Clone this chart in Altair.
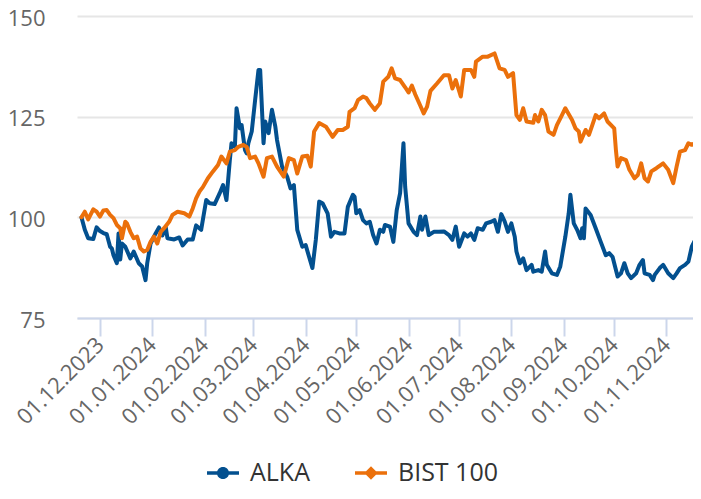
import altair as alt
import pandas as pd

# ---------------- data ----------------
alka_dates = [
    "2023-11-20", "2023-11-22", "2023-11-24", "2023-11-27", "2023-11-29", "2023-12-01", "2023-12-03",
    "2023-12-05", "2023-12-07", "2023-12-08", "2023-12-09", "2023-12-11", "2023-12-12", "2023-12-13",
    "2023-12-14", "2023-12-16", "2023-12-19", "2023-12-21", "2023-12-24", "2023-12-26", "2023-12-28",
    "2023-12-29", "2023-12-31", "2024-01-03", "2024-01-05", "2024-01-07", "2024-01-09", "2024-01-10",
    "2024-01-14", "2024-01-17", "2024-01-19", "2024-01-22", "2024-01-25", "2024-01-27", "2024-01-30",
    "2024-02-02", "2024-02-04", "2024-02-07", "2024-02-10", "2024-02-12", "2024-02-14", "2024-02-16",
    "2024-02-17", "2024-02-19", "2024-02-20", "2024-02-22", "2024-02-23", "2024-02-25", "2024-02-26",
    "2024-02-27", "2024-02-29", "2024-03-02", "2024-03-04", "2024-03-05", "2024-03-07", "2024-03-08",
    "2024-03-10", "2024-03-12", "2024-03-14", "2024-03-15", "2024-03-18", "2024-03-21", "2024-03-23",
    "2024-03-25", "2024-03-27", "2024-03-30", "2024-04-01", "2024-04-03", "2024-04-05", "2024-04-07",
    "2024-04-09", "2024-04-11", "2024-04-14", "2024-04-16", "2024-04-18", "2024-04-21", "2024-04-24",
    "2024-04-26", "2024-04-29", "2024-04-30", "2024-05-01", "2024-05-03", "2024-05-05", "2024-05-07",
    "2024-05-09", "2024-05-11", "2024-05-13", "2024-05-15", "2024-05-17", "2024-05-18", "2024-05-21",
    "2024-05-23", "2024-05-25", "2024-05-27", "2024-05-29", "2024-05-30", "2024-06-01", "2024-06-04",
    "2024-06-06", "2024-06-08", "2024-06-09", "2024-06-11", "2024-06-13", "2024-06-16", "2024-06-19",
    "2024-06-22", "2024-06-25", "2024-06-27", "2024-06-29", "2024-07-01", "2024-07-04", "2024-07-06",
    "2024-07-08", "2024-07-10", "2024-07-12", "2024-07-15", "2024-07-17", "2024-07-20", "2024-07-22",
    "2024-07-24", "2024-07-26", "2024-07-28", "2024-07-30", "2024-08-01", "2024-08-03", "2024-08-04",
    "2024-08-06", "2024-08-08", "2024-08-10", "2024-08-13", "2024-08-14", "2024-08-17", "2024-08-19",
    "2024-08-21", "2024-08-22", "2024-08-25", "2024-08-28", "2024-08-30", "2024-09-02", "2024-09-04",
    "2024-09-05", "2024-09-07", "2024-09-09", "2024-09-11", "2024-09-12", "2024-09-13", "2024-09-14",
    "2024-09-17", "2024-09-20", "2024-09-23", "2024-09-26", "2024-09-28", "2024-09-30", "2024-10-03",
    "2024-10-05", "2024-10-07", "2024-10-09", "2024-10-11", "2024-10-14", "2024-10-16", "2024-10-18",
    "2024-10-19", "2024-10-22", "2024-10-24", "2024-10-25", "2024-10-28", "2024-10-30", "2024-11-02",
    "2024-11-05", "2024-11-07", "2024-11-09", "2024-11-12", "2024-11-14", "2024-11-16", "2024-11-18",
    "2024-11-19", "2024-11-21",
]
alka_values = [
    100.0, 96.9, 94.8, 94.6, 97.5, 96.6, 96.1,
    95.8, 92.7, 92.3, 90.6, 88.6, 96.0, 89.5,
    93.5, 92.7, 89.8, 91.5, 88.6, 87.8, 84.4,
    88.6, 93.5, 96.0, 97.5, 95.5, 97.5, 94.8,
    94.5, 95.0, 93.0, 94.5, 94.5, 98.0, 96.9,
    104.3, 103.5, 103.3, 106.0, 108.0, 104.3, 114.2,
    118.4, 117.5, 127.1, 122.1, 122.9, 116.7, 115.9,
    118.4, 121.3, 129.1, 136.6, 136.6, 118.4, 123.8,
    120.9, 126.7, 122.5, 119.2, 112.6, 110.1, 107.2,
    108.0, 96.9, 92.7, 93.1, 90.2, 87.4, 94.4,
    103.9, 103.5, 101.0, 95.2, 96.4, 96.0, 96.0,
    102.6, 105.6, 105.1, 101.0, 101.8, 99.3, 98.5,
    98.9, 95.6, 93.5, 96.9, 96.4, 98.1, 97.7,
    93.9, 101.8, 106.0, 118.4, 107.6, 98.5, 96.4,
    95.6, 100.2, 96.9, 100.2, 95.6, 96.4, 96.4,
    96.5, 95.6, 94.4, 97.7, 92.7, 96.0, 95.2,
    96.0, 94.4, 97.3, 96.9, 98.5, 98.9, 99.3,
    96.4, 100.8, 99.0, 96.4, 98.5, 95.2, 91.5,
    88.6, 89.8, 86.9, 88.2, 86.5, 86.9, 86.5,
    91.5, 88.2, 86.1, 85.7, 87.8, 95.2, 101.0,
    105.6, 98.5, 96.9, 94.8, 97.3, 94.8, 102.2,
    100.6, 97.3, 93.9, 90.6, 91.1, 90.2, 85.3,
    86.1, 88.6, 86.1, 84.9, 86.1, 88.2, 89.4,
    86.1, 85.7, 84.4, 85.7, 87.4, 88.2, 86.1,
    84.9, 86.1, 87.4, 88.2, 89.0, 92.7, 94.4,
    90.5, 86.5,
]

bist_dates = [
    "2023-11-20", "2023-11-22", "2023-11-24", "2023-11-27", "2023-11-29", "2023-12-01", "2023-12-03",
    "2023-12-05", "2023-12-07", "2023-12-09", "2023-12-11", "2023-12-13", "2023-12-14", "2023-12-16",
    "2023-12-17", "2023-12-19", "2023-12-21", "2023-12-23", "2023-12-25", "2023-12-27", "2023-12-29",
    "2023-12-31", "2024-01-02", "2024-01-04", "2024-01-06", "2024-01-08", "2024-01-11", "2024-01-13",
    "2024-01-16", "2024-01-20", "2024-01-23", "2024-01-25", "2024-01-27", "2024-01-29", "2024-01-31",
    "2024-02-03", "2024-02-06", "2024-02-09", "2024-02-11", "2024-02-14", "2024-02-16", "2024-02-19",
    "2024-02-21", "2024-02-24", "2024-02-26", "2024-02-28", "2024-03-02", "2024-03-04", "2024-03-07",
    "2024-03-09", "2024-03-12", "2024-03-15", "2024-03-19", "2024-03-22", "2024-03-25", "2024-03-27",
    "2024-03-30", "2024-04-02", "2024-04-04", "2024-04-06", "2024-04-09", "2024-04-13", "2024-04-17",
    "2024-04-20", "2024-04-23", "2024-04-26", "2024-04-27", "2024-04-30", "2024-05-02", "2024-05-05",
    "2024-05-07", "2024-05-09", "2024-05-12", "2024-05-15", "2024-05-17", "2024-05-20", "2024-05-22",
    "2024-05-24", "2024-05-27", "2024-05-30", "2024-06-01", "2024-06-03", "2024-06-05", "2024-06-08",
    "2024-06-10", "2024-06-12", "2024-06-14", "2024-06-18", "2024-06-22", "2024-06-25", "2024-06-27",
    "2024-06-29", "2024-07-02", "2024-07-04", "2024-07-08", "2024-07-10", "2024-07-11", "2024-07-15",
    "2024-07-18", "2024-07-22", "2024-07-25", "2024-07-28", "2024-07-30", "2024-08-02", "2024-08-04",
    "2024-08-06", "2024-08-08", "2024-08-10", "2024-08-14", "2024-08-15", "2024-08-17", "2024-08-19",
    "2024-08-21", "2024-08-23", "2024-08-26", "2024-08-28", "2024-08-31", "2024-09-02", "2024-09-06",
    "2024-09-08", "2024-09-10", "2024-09-11", "2024-09-14", "2024-09-16", "2024-09-18", "2024-09-20",
    "2024-09-22", "2024-09-25", "2024-09-27", "2024-10-01", "2024-10-02", "2024-10-03", "2024-10-05",
    "2024-10-08", "2024-10-10", "2024-10-13", "2024-10-15", "2024-10-17", "2024-10-19", "2024-10-21",
    "2024-10-23", "2024-10-26", "2024-10-30", "2024-11-02", "2024-11-05", "2024-11-07", "2024-11-09",
    "2024-11-12", "2024-11-14", "2024-11-16", "2024-11-18", "2024-11-20", "2024-11-21",
]
bist_values = [
    100.0, 101.4, 99.5, 102.0, 101.4, 100.2, 101.7,
    101.8, 100.6, 99.8, 98.1, 97.3, 94.8, 98.9,
    98.5, 96.4, 94.8, 95.2, 92.3, 91.5, 91.9,
    93.9, 95.2, 93.5, 96.4, 97.3, 98.9, 100.6,
    101.4, 101.0, 100.2, 102.2, 104.7, 106.4, 107.5,
    109.7, 111.4, 113.0, 115.1, 113.4, 116.3, 116.7,
    117.5, 118.0, 117.5, 114.7, 115.1, 113.4, 110.1,
    114.7, 115.1, 112.6, 110.1, 114.7, 114.2, 110.9,
    115.1, 115.3, 112.6, 121.3, 123.4, 122.5, 120.0,
    121.7, 121.7, 122.5, 126.2, 127.1, 129.1, 130.0,
    129.6, 128.3, 126.7, 128.3, 133.7, 134.9, 137.0,
    134.5, 134.1, 132.3, 131.0, 132.7, 130.5, 127.7,
    125.8, 127.5, 131.4, 133.3, 135.3, 135.3, 132.0,
    134.1, 130.0, 136.6, 136.6, 134.9, 138.7, 139.9,
    139.9, 140.7, 137.0, 136.6, 134.9, 135.8, 125.4,
    124.2, 127.1, 123.8, 123.5, 125.4, 123.8, 126.7,
    125.4, 121.3, 120.5, 122.9, 125.4, 127.1, 124.2,
    122.1, 121.3, 118.8, 121.7, 120.5, 122.9, 125.4,
    124.6, 125.8, 123.8, 122.1, 116.7, 112.6, 114.7,
    114.2, 111.8, 109.7, 110.5, 113.4, 109.7, 108.9,
    111.4, 112.2, 113.4, 111.8, 108.5, 112.6, 116.3,
    116.7, 118.4, 118.0, 118.4, 118.2, 113.6,
]

series_names = ["ALKA", "BIST 100"]
series_colors = ["#03508f", "#eb700b"]
y_ticks = [75, 100, 125, 150]
x_tick_months = [(2023, 12), (2024, 1), (2024, 2), (2024, 3), (2024, 4), (2024, 5),
                 (2024, 6), (2024, 7), (2024, 8), (2024, 9), (2024, 10), (2024, 11)]

# ---------------- build tables ----------------
lines_df = pd.concat([
    pd.DataFrame({"date": alka_dates, "value": alka_values, "series": series_names[0]}),
    pd.DataFrame({"date": bist_dates, "value": bist_values, "series": series_names[1]}),
], ignore_index=True)

# legend-only rows (positioned outside the x domain and clipped away)
legend_df = pd.DataFrame({"date": ["2023-11-01", "2023-11-01"], "value": [100, 100],
                          "series": series_names})

x_domain = [alt.DateTime(year=2023, month=11, date=17, hours=8, minutes=38, utc=True),
            alt.DateTime(year=2024, month=11, date=16, hours=17, minutes=17, utc=True)]
x_values = [alt.DateTime(year=y, month=m, date=1, utc=True) for y, m in x_tick_months]

FONT = "Open Sans"

x_enc = alt.X(
    "date:T",
    title=None,
    scale=alt.Scale(type="utc", domain=x_domain),
    axis=alt.Axis(
        values=x_values, format="%d.%m.%Y", labelAngle=315, labelAlign="right",
        labelBaseline="middle", labelFontSize=22, labelFont=FONT, labelColor="#666666",
        labelPadding=5, labelOverlap=False, labelFlush=False, grid=False,
        domainColor="#ccd6eb", domainWidth=2, tickColor="#ccd6eb", tickWidth=2, tickSize=18,
    ),
)
y_enc = alt.Y(
    "value:Q",
    title=None,
    scale=alt.Scale(domain=[75, 150], nice=False, zero=False),
    axis=alt.Axis(
        values=y_ticks, grid=True, gridColor="#e6e6e6", gridWidth=2, domain=False, ticks=False,
        labelFontSize=22, labelFont=FONT, labelColor="#666666", labelPadding=32, labelOffset=2,
    ),
)

lines = alt.Chart(lines_df).mark_line(
    strokeWidth=4, strokeJoin="round", strokeCap="round", clip=True
).encode(
    x=x_enc, y=y_enc,
    color=alt.Color("series:N", scale=alt.Scale(domain=series_names, range=series_colors), legend=None),
)

circle_path = ("M-1,-0.11 L1,-0.11 L1,0.11 L-1,0.11 Z "
               "M-0.38,0 A0.38,0.38 0 1,1 0.38,0 A0.38,0.38 0 1,1 -0.38,0 Z")
diamond_path = ("M-1,-0.11 L1,-0.11 L1,0.11 L-1,0.11 Z "
                "M0,-0.42 L0.42,0 L0,0.42 L-0.42,0 Z")

legend_layer = alt.Chart(legend_df).mark_point(filled=True, clip=True, strokeWidth=0, opacity=1).encode(
    x=alt.X("date:T"), y=alt.Y("value:Q"),
    color=alt.Color("series:N", scale=alt.Scale(domain=series_names, range=series_colors),
                    legend=alt.Legend(title=None)),
    shape=alt.Shape("series:N", scale=alt.Scale(domain=series_names, range=[circle_path, diamond_path]),
                    legend=alt.Legend(title=None)),
)

chart = alt.layer(lines, legend_layer).resolve_scale(
    color="independent", shape="independent"
).properties(
    width=616, height=302,
    autosize=alt.AutoSizeParams(type="none"),
    padding={"left": 69, "top": 8, "right": 0, "bottom": 171},
).configure_view(
    stroke=None
).configure_legend(
    orient="none", legendX=130, legendY=441, direction="horizontal",
    symbolSize=1024, symbolStrokeWidth=0, symbolOpacity=1,
    labelFontSize=25, labelFont=FONT, labelColor="#333333", labelOffset=11,
    columnPadding=45, padding=0, titlePadding=0,
)

chart.save("out.html", embed_options={"renderer": "svg", "actions": False})
